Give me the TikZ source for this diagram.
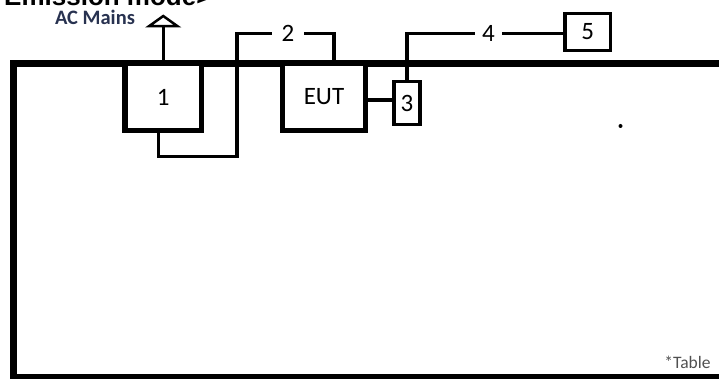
\documentclass[tikz,border=0pt]{standalone}
\usepackage{fontspec}
\setmainfont{Carlito}
\newfontfamily\titlefont{Liberation Sans}
\usetikzlibrary{arrows.meta,positioning}
\definecolor{mainsblue}{RGB}{40,50,80}
\definecolor{tablegray}{RGB}{80,80,80}
\tikzset{unit box/.style={draw,fill=white,line width=5.5pt,inner sep=0pt,font=\fontsize{25}{25}\selectfont}}
\tikzset{small box/.style={draw,fill=white,line width=3.5pt,inner sep=0pt,font=\fontsize{25}{25}\selectfont}}
\tikzset{wire/.style={line width=3.5pt}}
\tikzset{wire label/.style={inner sep=0pt,font=\fontsize{25}{25}\selectfont}}

\begin{document}
\begin{tikzpicture}[x=1pt,y=1pt]
  \useasboundingbox (0,0) rectangle (719,379);
  % table
  \draw[line width=7pt] (740,315.5) -- (13.5,315.5) -- (13.5,1) -- (740,1);
  \node[unit box,minimum width=76.5pt,minimum height=67pt] (box1) at (163.25,282) {1};
  \node[unit box,minimum width=83pt,minimum height=67pt] (eut) at (324,282) {EUT};
  \node[small box,minimum width=26pt,minimum height=43pt] (box3) at (407,276) {3};
  \node[small box,minimum width=45.5pt,minimum height=37pt] (box5) at (587.75,347) {5};
  \node[wire label,minimum width=32pt] (lbl2) at (288,345.5) {2};
  \node[wire label,minimum width=27pt] (lbl4) at (488.5,345.5) {4};
  \coordinate (ac) at (163.25,364.5);
  \coordinate (bend) at (237,222.5);
  \node[font=\fontsize{20.5}{20.5}\selectfont\bfseries,text=mainsblue,inner sep=0pt] (mains) at (95,361.5) {AC Mains};
  \node[font=\titlefont\fontsize{26}{26}\selectfont\bfseries,anchor=base west,inner sep=0pt] (title) at (4,373.5) {Emission mode>};
  \node[font=\fontsize{17.5}{17.5}\selectfont,text=tablegray] (tbl) at (687.5,17) {*Table};
  \fill (620.5,253) circle (2pt);
  % cables
  \draw[line width=3.5pt,-{Triangle[open,width=36pt,length=13pt,line width=2.5pt]}] (box1.north) -- (ac);
  \draw[wire] ([xshift=-5pt]box1.south) |- (bend) |- (lbl2.west);
  \draw[wire] (lbl2.east) -| ([xshift=10pt]eut.north);
  \draw[wire] ([yshift=3pt]box3.west -| eut.east) -- ([yshift=3pt]box3.west);
  \draw[wire] (box3.north) |- (lbl4.west);
  \draw[wire] (lbl4.east) -- (lbl4.east -| box5.west);
\end{tikzpicture}
\end{document}
